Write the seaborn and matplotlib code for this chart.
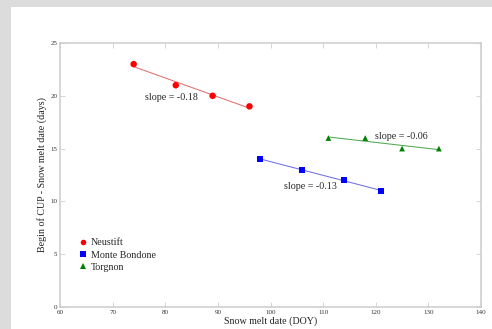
import numpy as np
import pandas as pd
import seaborn as sns
import matplotlib
matplotlib.use("Agg")
import matplotlib.pyplot as plt
from matplotlib.patches import Rectangle
from matplotlib.lines import Line2D

sites = ["Neustift", "Monte Bondone", "Torgnon"]
neustift_x = [74, 82, 89, 96]
neustift_y = [23, 21, 20, 19]
bondone_x = [98, 106, 114, 121]
bondone_y = [14, 13, 12, 11]
torgnon_x = [111, 118, 125, 132]
torgnon_y = [16, 16, 15, 15]
slope_labels = ["slope = -0.18", "slope = -0.13", "slope = -0.06"]
xticks = [60, 70, 80, 90, 100, 110, 120, 130, 140]
yticks = [0, 5, 10, 15, 20, 25]

sns.set_style("white")
plt.rcParams['font.family'] = ['Liberation Serif', 'DejaVu Serif']

df = pd.DataFrame({
    "x": neustift_x + bondone_x + torgnon_x,
    "y": neustift_y + bondone_y + torgnon_y,
    "site": [sites[0]] * 4 + [sites[1]] * 4 + [sites[2]] * 4,
})

marker_cols = ["#ff0000", "#0000ff", "#008000"]
line_cols = ["#e07070", "#7070e8", "#50a850"]
markers = ["o", "s", "^"]
msizes = [22, 20, 17]

fig = plt.figure(figsize=(4.92, 3.29), dpi=100)
fig.patch.set_facecolor("#dcdcdc")
bg = Rectangle((11 / 492, 0), 1, 1 - 7 / 329, transform=fig.transFigure,
               facecolor="white", edgecolor="none", zorder=-10)
fig.patches.append(bg)
ax = fig.add_axes([60 / 492, 22 / 329, 421 / 492, 264 / 329])
ax.set_zorder(5)
ax.set_facecolor("white")

for i, s in enumerate(sites):
    sub = df[df.site == s]
    sns.regplot(data=sub, x="x", y="y", ax=ax, ci=None, scatter=False,
                line_kws=dict(color=line_cols[i], lw=0.75), truncate=True)

handles = []
for i, s in enumerate(sites):
    sub = df[df.site == s]
    sns.scatterplot(data=sub, x="x", y="y", ax=ax, color=marker_cols[i], marker=markers[i],
                    s=msizes[i], edgecolor="none", zorder=5, legend=False)
    handles.append(Line2D([], [], ls="none", marker=markers[i], color=marker_cols[i],
                          markersize=4, markeredgewidth=0))

ax.text(81.1, 19.8, slope_labels[0], fontsize=7.2, ha="center", va="center")
ax.text(107.5, 11.4, slope_labels[1], fontsize=7.2, ha="center", va="center")
ax.text(124.8, 16.1, slope_labels[2], fontsize=7.2, ha="center", va="center")

ax.set_xlim(60, 140)
ax.set_ylim(0, 25)
ax.set_xticks(xticks)
ax.set_yticks(yticks)
ax.tick_params(direction="in", length=3.5, width=0.6, color="#d0d0d0", labelsize=5,
               labelcolor="#333333", top=True, right=True, bottom=True, left=True, pad=2)
for sp in ax.spines.values():
    sp.set_color("#cccccc")
    sp.set_linewidth(1.1)
ax.set_xlabel("Snow melt date (DOY)", fontsize=7.2, labelpad=1, color="#222222")
ax.set_ylabel("Begin of CUP - Snow melt date (days)", fontsize=7.2, labelpad=2, color="#222222")

ax.legend(handles, sites, loc="upper left", bbox_to_anchor=(0.03, 0.275), frameon=False,
          fontsize=7.2, handletextpad=0.25, handlelength=1.2, labelspacing=0.32,
          borderaxespad=0)

fig.savefig("out.png", dpi=100, facecolor=fig.get_facecolor())
